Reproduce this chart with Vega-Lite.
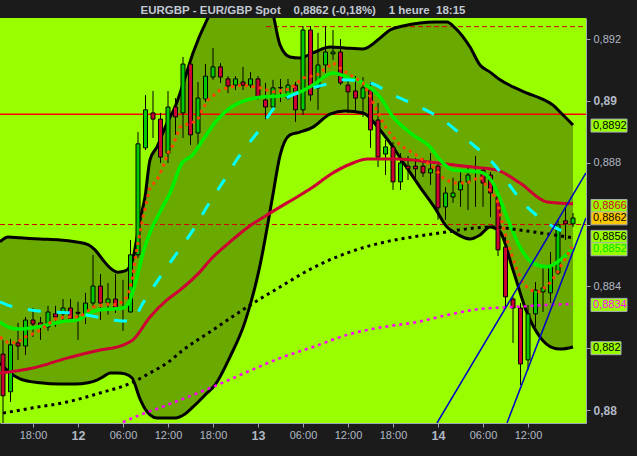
{
"$schema": "https://vega.github.io/schema/vega-lite/v6.json",
"width": 586, "height": 405,
"autosize": {"type": "none"},
"padding": {"left": 0, "top": 18, "right": 51, "bottom": 33},
"background": "#1b1b1b",
"title": {"text": "EURGBP - EUR/GBP Spot \u00a0\u00a0\u00a00,8862 (-0,18%) \u00a0\u00a0\u00a01 heure \u00a018:15", "anchor": "middle", "dx": 10, "dy": 11, "offset": 4, "baseline": "alphabetic", "font": "Liberation Sans", "fontSize": 11.5, "fontWeight": "bold", "color": "#c0c8d2"},
"config": {"view": {"fill": "#99ff00", "stroke": null}},
"datasets": {
"band": [
{"t":13.6,"upper":0.88544,"lower":0.88152},{"t":14.667,"upper":0.8856,"lower":0.88126},{"t":16.267,"upper":0.88557,"lower":0.88101},{"t":18.933,"upper":0.88553,"lower":0.88088},{"t":21.6,"upper":0.8855,"lower":0.88084},{"t":23.6,"upper":0.88544,"lower":0.88084},{"t":25.333,"upper":0.88535,"lower":0.88088},{"t":26.267,"upper":0.88518,"lower":0.88094},{"t":27.333,"upper":0.88485,"lower":0.88107},{"t":28.267,"upper":0.8846,"lower":0.8812},{"t":29.333,"upper":0.88446,"lower":0.8812},{"t":30.267,"upper":0.8845,"lower":0.88117},{"t":31.2,"upper":0.88479,"lower":0.88104},{"t":32.267,"upper":0.88615,"lower":0.88036},{"t":32.933,"upper":0.88689,"lower":0.88004},{"t":33.6,"upper":0.88809,"lower":0.87984},{"t":34.533,"upper":0.88851,"lower":0.87974},{"t":35.867,"upper":0.88928,"lower":0.87974},{"t":36.933,"upper":0.8898,"lower":0.87974},{"t":38.267,"upper":0.89074,"lower":0.87987},{"t":39.333,"upper":0.89155,"lower":0.8801},{"t":41.2,"upper":0.89262,"lower":0.88055},{"t":42.267,"upper":0.8931,"lower":0.88081},{"t":44.267,"upper":0.89375,"lower":0.88172},{"t":46.267,"upper":0.89391,"lower":0.88285},{"t":48.267,"upper":0.89359,"lower":0.88468},{"t":49.867,"upper":0.89294,"lower":0.88679},{"t":50.933,"upper":0.89181,"lower":0.88823},{"t":52.267,"upper":0.89142,"lower":0.8889},{"t":53.6,"upper":0.89139,"lower":0.88899},{"t":55.333,"upper":0.89155,"lower":0.88915},{"t":57.6,"upper":0.89174,"lower":0.88957},{"t":59.6,"upper":0.89171,"lower":0.88967},{"t":62.0,"upper":0.89168,"lower":0.88961},{"t":64.267,"upper":0.89203,"lower":0.88906},{"t":65.6,"upper":0.89229,"lower":0.88864},{"t":67.333,"upper":0.89242,"lower":0.88802},{"t":69.6,"upper":0.89252,"lower":0.88721},{"t":71.6,"upper":0.89255,"lower":0.88653},{"t":73.2,"upper":0.89255,"lower":0.88592},{"t":74.267,"upper":0.89236,"lower":0.88573},{"t":76.267,"upper":0.89174,"lower":0.88553},{"t":77.6,"upper":0.89116,"lower":0.88566},{"t":78.933,"upper":0.89093,"lower":0.88592},{"t":80.267,"upper":0.89068,"lower":0.88576},{"t":82.0,"upper":0.89045,"lower":0.88453},{"t":83.867,"upper":0.89025,"lower":0.88314},{"t":85.6,"upper":0.89009,"lower":0.88236},{"t":87.333,"upper":0.88986,"lower":0.88201},{"t":88.267,"upper":0.88964,"lower":0.88197},{"t":90.0,"upper":0.88922,"lower":0.88204}
],
"candles": [
{"t":14,"open":0.88181,"high":0.88227,"low":0.87958,"close":0.88046},
{"t":15,"open":0.88059,"high":0.8823,"low":0.88026,"close":0.88211},
{"t":16,"open":0.88217,"high":0.88282,"low":0.88162,"close":0.88207},
{"t":17,"open":0.88207,"high":0.88301,"low":0.88178,"close":0.88291},
{"t":18,"open":0.88291,"high":0.8833,"low":0.88236,"close":0.88278},
{"t":19,"open":0.88282,"high":0.88301,"low":0.88227,"close":0.88269},
{"t":20,"open":0.88269,"high":0.88337,"low":0.88256,"close":0.88317},
{"t":21,"open":0.88311,"high":0.88337,"low":0.88269,"close":0.88301},
{"t":22,"open":0.88311,"high":0.88359,"low":0.88285,"close":0.8833},
{"t":23,"open":0.8833,"high":0.88359,"low":0.88285,"close":0.88295},
{"t":24,"open":0.88316,"high":0.8835,"low":0.88227,"close":0.88313},
{"t":25,"open":0.88308,"high":0.88379,"low":0.88278,"close":0.88346},
{"t":26,"open":0.88346,"high":0.88502,"low":0.88333,"close":0.88401},
{"t":27,"open":0.88401,"high":0.8844,"low":0.88291,"close":0.88346},
{"t":28,"open":0.88346,"high":0.88411,"low":0.88308,"close":0.88359},
{"t":29,"open":0.88359,"high":0.8844,"low":0.88314,"close":0.8833},
{"t":30,"open":0.88332,"high":0.88421,"low":0.88256,"close":0.8833},
{"t":31,"open":0.88317,"high":0.8855,"low":0.88315,"close":0.88502},
{"t":32,"open":0.88502,"high":0.88899,"low":0.88492,"close":0.88861},
{"t":33,"open":0.88848,"high":0.89019,"low":0.88841,"close":0.88971},
{"t":34,"open":0.88961,"high":0.89032,"low":0.8888,"close":0.88941},
{"t":35,"open":0.88941,"high":0.88961,"low":0.88799,"close":0.88818},
{"t":36,"open":0.88831,"high":0.89032,"low":0.88799,"close":0.8898},
{"t":37,"open":0.8898,"high":0.89009,"low":0.8889,"close":0.88948},
{"t":38,"open":0.88961,"high":0.89142,"low":0.8888,"close":0.89119},
{"t":39,"open":0.89119,"high":0.89142,"low":0.88857,"close":0.8889},
{"t":40,"open":0.88896,"high":0.89061,"low":0.88857,"close":0.89009},
{"t":41,"open":0.89006,"high":0.89119,"low":0.88996,"close":0.8908},
{"t":42,"open":0.89077,"high":0.89171,"low":0.89068,"close":0.8911},
{"t":43,"open":0.8911,"high":0.89122,"low":0.89058,"close":0.89077},
{"t":44,"open":0.89071,"high":0.8908,"low":0.89025,"close":0.89048},
{"t":45,"open":0.89051,"high":0.8908,"low":0.89035,"close":0.89071},
{"t":46,"open":0.89061,"high":0.8911,"low":0.89035,"close":0.89051},
{"t":47,"open":0.89051,"high":0.89093,"low":0.89042,"close":0.89071},
{"t":48,"open":0.89071,"high":0.8908,"low":0.89003,"close":0.89013},
{"t":49,"open":0.89003,"high":0.89058,"low":0.88941,"close":0.8898},
{"t":50,"open":0.8898,"high":0.89068,"low":0.88971,"close":0.89042},
{"t":51,"open":0.89043,"high":0.89071,"low":0.88996,"close":0.89042},
{"t":52,"open":0.89009,"high":0.89071,"low":0.89003,"close":0.89051},
{"t":53,"open":0.89051,"high":0.89061,"low":0.88932,"close":0.88971},
{"t":54,"open":0.88971,"high":0.89242,"low":0.88954,"close":0.89229},
{"t":55,"open":0.89229,"high":0.89242,"low":0.89,"close":0.89019},
{"t":56,"open":0.89042,"high":0.8922,"low":0.88971,"close":0.89116},
{"t":57,"open":0.89116,"high":0.89242,"low":0.8909,"close":0.89158},
{"t":58,"open":0.89152,"high":0.89229,"low":0.89132,"close":0.89158},
{"t":59,"open":0.89158,"high":0.892,"low":0.89051,"close":0.89058},
{"t":60,"open":0.89051,"high":0.89077,"low":0.88961,"close":0.89029},
{"t":61,"open":0.89032,"high":0.8908,"low":0.88961,"close":0.89009},
{"t":62,"open":0.89009,"high":0.89077,"low":0.88948,"close":0.89042},
{"t":63,"open":0.89035,"high":0.89061,"low":0.88848,"close":0.88906},
{"t":64,"open":0.88938,"high":0.88993,"low":0.88786,"close":0.88818},
{"t":65,"open":0.88828,"high":0.88873,"low":0.8876,"close":0.88851},
{"t":66,"open":0.88851,"high":0.88867,"low":0.88712,"close":0.88738},
{"t":67,"open":0.88738,"high":0.88831,"low":0.88712,"close":0.88799},
{"t":68,"open":0.88789,"high":0.88822,"low":0.88744,"close":0.8878},
{"t":69,"open":0.88789,"high":0.88815,"low":0.88751,"close":0.8878},
{"t":70,"open":0.88789,"high":0.88815,"low":0.88754,"close":0.88767},
{"t":71,"open":0.88767,"high":0.88831,"low":0.88728,"close":0.8878},
{"t":72,"open":0.88789,"high":0.88799,"low":0.88615,"close":0.88654},
{"t":73,"open":0.88657,"high":0.88721,"low":0.88615,"close":0.88702},
{"t":74,"open":0.88689,"high":0.88751,"low":0.8867,"close":0.88702},
{"t":75,"open":0.88712,"high":0.88776,"low":0.88657,"close":0.88738},
{"t":76,"open":0.88738,"high":0.88783,"low":0.88647,"close":0.8876},
{"t":77,"open":0.88771,"high":0.88822,"low":0.88657,"close":0.8877},
{"t":78,"open":0.88776,"high":0.88783,"low":0.88657,"close":0.88734},
{"t":79,"open":0.8876,"high":0.8877,"low":0.88624,"close":0.88702},
{"t":80,"open":0.88689,"high":0.88712,"low":0.88498,"close":0.88518},
{"t":81,"open":0.88527,"high":0.8856,"low":0.88333,"close":0.88366},
{"t":82,"open":0.88359,"high":0.88366,"low":0.88217,"close":0.8833},
{"t":83,"open":0.8833,"high":0.88346,"low":0.88081,"close":0.88149},
{"t":84,"open":0.88162,"high":0.8834,"low":0.8813,"close":0.88311},
{"t":85,"open":0.88311,"high":0.88414,"low":0.88269,"close":0.88388},
{"t":86,"open":0.88382,"high":0.8846,"low":0.88317,"close":0.88395},
{"t":87,"open":0.88379,"high":0.88511,"low":0.88346,"close":0.88463},
{"t":88,"open":0.88443,"high":0.88615,"low":0.88437,"close":0.88599},
{"t":89,"open":0.88612,"high":0.88657,"low":0.8855,"close":0.88602},
{"t":90,"open":0.88602,"high":0.88637,"low":0.88592,"close":0.88621}
],
"green": [
{"t":13.6,"v":0.88285},{"t":14.933,"v":0.88266},{"t":16.267,"v":0.88262},{"t":18.0,"v":0.88266},{"t":19.867,"v":0.88275},{"t":21.6,"v":0.88285},{"t":23.867,"v":0.88291},{"t":25.6,"v":0.88314},{"t":26.933,"v":0.88324},{"t":28.667,"v":0.88327},{"t":30.0,"v":0.8833},{"t":30.933,"v":0.88356},{"t":31.867,"v":0.8843},{"t":32.667,"v":0.88508},{"t":33.867,"v":0.88589},{"t":34.933,"v":0.88641},{"t":36.267,"v":0.88702},{"t":37.867,"v":0.88799},{"t":39.2,"v":0.88823},{"t":40.667,"v":0.88874},{"t":42.533,"v":0.88938},{"t":44.267,"v":0.88977},{"t":46.533,"v":0.89003},{"t":48.267,"v":0.89012},{"t":50.933,"v":0.89016},{"t":53.6,"v":0.89029},{"t":55.333,"v":0.89051},{"t":58.0,"v":0.8909},{"t":59.867,"v":0.89077},{"t":62.0,"v":0.89058},{"t":64.267,"v":0.89012},{"t":66.0,"v":0.88948},{"t":68.667,"v":0.8889},{"t":70.933,"v":0.88851},{"t":72.267,"v":0.88809},{"t":74.0,"v":0.88776},{"t":77.6,"v":0.8877},{"t":79.333,"v":0.88734},{"t":81.2,"v":0.88624},{"t":82.933,"v":0.88527},{"t":84.667,"v":0.88475},{"t":86.533,"v":0.88463},{"t":88.267,"v":0.88485},{"t":90.0,"v":0.88524}
],
"crimson": [
{"t":13.6,"v":0.8812},{"t":18.0,"v":0.88136},{"t":22.533,"v":0.88168},{"t":26.933,"v":0.88194},{"t":30.0,"v":0.8821},{"t":31.333,"v":0.88227},{"t":33.6,"v":0.88301},{"t":35.867,"v":0.88356},{"t":37.6,"v":0.88388},{"t":39.867,"v":0.88437},{"t":42.0,"v":0.88495},{"t":44.267,"v":0.88544},{"t":46.533,"v":0.88589},{"t":49.2,"v":0.88631},{"t":51.867,"v":0.8867},{"t":55.333,"v":0.88721},{"t":57.6,"v":0.88761},{"t":60.667,"v":0.88799},{"t":62.533,"v":0.88812},{"t":66.533,"v":0.88812},{"t":70.933,"v":0.88802},{"t":75.333,"v":0.88789},{"t":79.867,"v":0.88776},{"t":82.933,"v":0.88734},{"t":86.533,"v":0.88673},{"t":90.0,"v":0.88667}
],
"cyan": [
{"t":13.6,"v":0.8835},{"t":14.933,"v":0.88337},{"t":16.933,"v":0.88327},{"t":20.267,"v":0.88317},{"t":23.333,"v":0.88314},{"t":26.533,"v":0.88301},{"t":27.867,"v":0.88295},{"t":30.0,"v":0.88288},{"t":31.2,"v":0.88291},{"t":32.667,"v":0.88346},{"t":34.933,"v":0.8843},{"t":37.2,"v":0.88508},{"t":39.333,"v":0.88582},{"t":41.333,"v":0.88663},{"t":43.333,"v":0.88738},{"t":45.6,"v":0.88825},{"t":47.867,"v":0.88896},{"t":50.267,"v":0.8898},{"t":53.6,"v":0.89029},{"t":56.667,"v":0.89051},{"t":59.333,"v":0.89068},{"t":62.933,"v":0.89058},{"t":66.0,"v":0.89019},{"t":69.6,"v":0.8898},{"t":72.667,"v":0.88938},{"t":75.867,"v":0.88874},{"t":78.933,"v":0.88809},{"t":83.867,"v":0.88657},{"t":86.933,"v":0.88599},{"t":89.867,"v":0.88566}
],
"orange": [
{"t":13.6,"v":0.88236},{"t":14.533,"v":0.8822},{"t":15.867,"v":0.88217},{"t":16.667,"v":0.88233},{"t":17.6,"v":0.88243},{"t":18.533,"v":0.88252},{"t":19.333,"v":0.88266},{"t":21.2,"v":0.88298},{"t":22.533,"v":0.88301},{"t":24.267,"v":0.88301},{"t":26.0,"v":0.88333},{"t":27.867,"v":0.88343},{"t":29.2,"v":0.8834},{"t":30.267,"v":0.88356},{"t":30.667,"v":0.88372},{"t":31.2,"v":0.88421},{"t":31.6,"v":0.88485},{"t":32.0,"v":0.8854},{"t":32.667,"v":0.88624},{"t":33.6,"v":0.88721},{"t":34.533,"v":0.88744},{"t":35.333,"v":0.88786},{"t":36.0,"v":0.88832},{"t":36.667,"v":0.88857},{"t":37.6,"v":0.88915},{"t":38.933,"v":0.88928},{"t":39.867,"v":0.88935},{"t":40.533,"v":0.8897},{"t":41.333,"v":0.89003},{"t":42.933,"v":0.89035},{"t":44.267,"v":0.89045},{"t":46.0,"v":0.89051},{"t":48.267,"v":0.89042},{"t":50.0,"v":0.89029},{"t":52.267,"v":0.89038},{"t":54.0,"v":0.89074},{"t":55.867,"v":0.89084},{"t":58.0,"v":0.89123},{"t":59.867,"v":0.8909},{"t":62.0,"v":0.89058},{"t":63.2,"v":0.89003},{"t":64.267,"v":0.88948},{"t":65.2,"v":0.88906},{"t":66.933,"v":0.88857},{"t":69.2,"v":0.88823},{"t":71.333,"v":0.88786},{"t":72.667,"v":0.88751},{"t":74.0,"v":0.88734},{"t":75.867,"v":0.88734},{"t":77.6,"v":0.88754},{"t":79.867,"v":0.88679},{"t":80.667,"v":0.88592},{"t":81.6,"v":0.88518},{"t":82.533,"v":0.88453},{"t":83.333,"v":0.88411},{"t":84.267,"v":0.88388},{"t":85.6,"v":0.88382},{"t":86.933,"v":0.88411},{"t":87.867,"v":0.88443},{"t":88.667,"v":0.88479},{"t":89.867,"v":0.88527}
],
"blackma": [
{"t":14.0,"v":0.8799},{"t":18.0,"v":0.88007},{"t":22.533,"v":0.88026},{"t":26.933,"v":0.88055},{"t":31.333,"v":0.8809},{"t":33.6,"v":0.8812},{"t":35.867,"v":0.88152},{"t":38.0,"v":0.88194},{"t":42.0,"v":0.88259},{"t":46.533,"v":0.88333},{"t":50.933,"v":0.88398},{"t":55.333,"v":0.8846},{"t":59.867,"v":0.88508},{"t":65.6,"v":0.88547},{"t":68.667,"v":0.8856},{"t":73.2,"v":0.88576},{"t":75.867,"v":0.88586},{"t":79.333,"v":0.88592},{"t":82.933,"v":0.88582},{"t":85.6,"v":0.88573},{"t":89.2,"v":0.8856},{"t":90.0,"v":0.88557}
],
"magenta": [
{"t":28.267,"v":0.87942},{"t":32.267,"v":0.87984},{"t":35.867,"v":0.88016},{"t":38.0,"v":0.88036},{"t":42.0,"v":0.88075},{"t":46.533,"v":0.88123},{"t":50.933,"v":0.88168},{"t":55.333,"v":0.88204},{"t":59.867,"v":0.88243},{"t":65.6,"v":0.88272},{"t":68.667,"v":0.88282},{"t":73.2,"v":0.88307},{"t":77.6,"v":0.88327},{"t":82.0,"v":0.88333},{"t":86.533,"v":0.8834},{"t":90.0,"v":0.88343}
],
"blue": [
{"t":71.87,"v":0.87958,"t2":91.73,"v2":0.88767},
{"t":81.2,"v":0.87958,"t2":91.73,"v2":0.88621}
],
"hsolid": [{"t":13.6,"t2":91.73,"v":0.88957}],
"hdash": [{"t":13.6,"t2":91.73,"v":0.886},{"t":49.07,"t2":91.73,"v":0.8924}],
"boxes": [
{"series":"upper","v":0.8892,"label":"0,8892"},
{"series":"crimson","v":0.8866,"label":"0,8866"},
{"series":"price","v":0.8862,"label":"0,8862"},
{"series":"blackma","v":0.8856,"label":"0,8856"},
{"series":"green","v":0.8852,"label":"0,8852"},
{"series":"magenta","v":0.8834,"label":"0,8834"},
{"series":"lower","v":0.882,"label":"0,882"}
]
},
"layer": [
{"data": {"name": "band"},
 "mark": {"type": "area", "fill": "#6aaa00", "interpolate": "monotone", "clip": true},
 "encoding": {
  "x": {"field": "t", "type": "quantitative",
   "scale": {"domain": [13.6, 91.73], "nice": false, "zero": false, "padding": 0},
   "axis": {"title": null, "grid": false, "values": [18,24,30,36,42,48,54,60,66,72,78,84],
    "labelExpr": "datum.value % 24 == 0 ? toString(datum.value / 24 + 11) : (datum.value % 24 == 6 ? '06:00' : (datum.value % 24 == 12 ? '12:00' : '18:00'))",
    "domainColor": "#a0a8b2", "tickColor": "#a0a8b2", "tickSize": 4, "labelPadding": 2,
    "labelColor": "#b0b8c4", "labelFont": "Liberation Sans",
    "labelFontSize": {"condition": {"test": "datum.value % 24 == 0", "value": 12.5}, "value": 11},
    "labelFontWeight": {"condition": {"test": "datum.value % 24 == 0", "value": "bold"}, "value": "normal"},
    "labelOverlap": false, "labelFlush": false}},
  "y": {"field": "upper", "type": "quantitative",
   "scale": {"domain": [0.87958, 0.89268], "nice": false, "zero": false, "padding": 0},
   "axis": {"title": null, "grid": false, "orient": "right",
    "values": [0.88,0.881,0.882,0.883,0.884,0.885,0.886,0.887,0.888,0.889,0.89,0.891,0.892],
    "labelExpr": "(round(datum.value*1000) % 2 != 0 || round(datum.value*1000) == 886 || round(datum.value*1000) == 882) ? '' : replace(format(datum.value, round(datum.value*1000) % 10 == 0 ? '.2f' : '.3f'), '.', ',')",
    "domainColor": "#a0a8b2", "tickColor": "#a0a8b2", "tickSize": 4, "labelPadding": 3,
    "labelColor": "#b0b8c4", "labelFont": "Liberation Sans", "labelBaseline": "middle",
    "labelFontSize": {"condition": {"test": "round(datum.value*1000) % 10 == 0", "value": 12}, "value": 11},
    "labelFontWeight": {"condition": {"test": "round(datum.value*1000) % 10 == 0", "value": "bold"}, "value": "normal"},
    "labelOverlap": false, "labelFlush": false}},
  "y2": {"field": "lower"}
 }},
{"data": {"name": "hsolid"},
 "mark": {"type": "rule", "color": "#ff0000", "strokeWidth": 1.5, "clip": true},
 "encoding": {"x": {"field": "t", "type": "quantitative"}, "x2": {"field": "t2"}, "y": {"field": "v", "type": "quantitative"}}},
{"data": {"name": "hdash"},
 "mark": {"type": "rule", "color": "#d40000", "strokeWidth": 1, "strokeDash": [5, 3], "clip": true},
 "encoding": {"x": {"field": "t", "type": "quantitative"}, "x2": {"field": "t2"}, "y": {"field": "v", "type": "quantitative"}}},
{"data": {"name": "band"},
 "mark": {"type": "line", "color": "#000000", "strokeWidth": 3, "interpolate": "monotone", "clip": true},
 "encoding": {"x": {"field": "t", "type": "quantitative"}, "y": {"field": "upper", "type": "quantitative"}}},
{"data": {"name": "band"},
 "mark": {"type": "line", "color": "#000000", "strokeWidth": 3, "interpolate": "monotone", "clip": true},
 "encoding": {"x": {"field": "t", "type": "quantitative"}, "y": {"field": "lower", "type": "quantitative"}}},
{"data": {"name": "candles"},
 "mark": {"type": "rule", "color": "#000000", "strokeWidth": 1, "clip": true},
 "encoding": {"x": {"field": "t", "type": "quantitative"}, "y": {"field": "low", "type": "quantitative"}, "y2": {"field": "high"}}},
{"data": {"name": "candles"},
 "mark": {"type": "bar", "width": 4, "stroke": "#000000", "strokeWidth": 1, "clip": true},
 "encoding": {"x": {"field": "t", "type": "quantitative"}, "y": {"field": "open", "type": "quantitative"}, "y2": {"field": "close"},
  "fill": {"condition": {"test": "datum.close >= datum.open", "value": "#00c800"}, "value": "#cc0033"}}},
{"data": {"name": "crimson"},
 "mark": {"type": "line", "color": "#cc0033", "strokeWidth": 3, "interpolate": "monotone", "clip": true},
 "encoding": {"x": {"field": "t", "type": "quantitative"}, "y": {"field": "v", "type": "quantitative"}}},
{"data": {"name": "green"},
 "mark": {"type": "line", "color": "#00f000", "strokeWidth": 3.5, "interpolate": "monotone", "clip": true},
 "encoding": {"x": {"field": "t", "type": "quantitative"}, "y": {"field": "v", "type": "quantitative"}}},
{"data": {"name": "cyan"},
 "mark": {"type": "line", "color": "#00ffff", "strokeWidth": 3, "strokeDash": [13, 16], "interpolate": "monotone", "clip": true},
 "encoding": {"x": {"field": "t", "type": "quantitative"}, "y": {"field": "v", "type": "quantitative"}}},
{"data": {"name": "blackma"},
 "mark": {"type": "line", "color": "#000000", "strokeWidth": 3, "strokeDash": [3, 4], "interpolate": "monotone", "clip": true},
 "encoding": {"x": {"field": "t", "type": "quantitative"}, "y": {"field": "v", "type": "quantitative"}}},
{"data": {"name": "magenta"},
 "mark": {"type": "line", "color": "#ff00ff", "strokeWidth": 2.5, "strokeDash": [3, 4], "interpolate": "monotone", "clip": true},
 "encoding": {"x": {"field": "t", "type": "quantitative"}, "y": {"field": "v", "type": "quantitative"}}},
{"data": {"name": "orange"},
 "mark": {"type": "line", "color": "#ff4500", "strokeWidth": 3, "strokeDash": [3, 4], "clip": true},
 "encoding": {"x": {"field": "t", "type": "quantitative"}, "y": {"field": "v", "type": "quantitative"}}},
{"data": {"name": "blue"},
 "mark": {"type": "rule", "color": "#0000cc", "strokeWidth": 1.5, "clip": true},
 "encoding": {"x": {"field": "t", "type": "quantitative"}, "y": {"field": "v", "type": "quantitative"}, "x2": {"field": "t2"}, "y2": {"field": "v2"}}},
{"data": {"name": "boxes"},
 "transform": [{"filter": "datum.series != 'lower'"}],
 "mark": {"type": "rect", "stroke": "#a8aeb6", "strokeWidth": 1, "xOffset": 5, "x2Offset": 41, "yOffset": -6.5, "y2Offset": 6.5},
 "encoding": {"x": {"value": "width"}, "x2": {"value": "width"}, "y": {"field": "v", "type": "quantitative"}, "y2": {"field": "v"},
  "fill": {"condition": {"test": "datum.series == 'price'", "value": "#ffc800"}, "value": "#99ff00"}}},
{"data": {"name": "boxes"},
 "transform": [{"filter": "datum.series == 'lower'"}],
 "mark": {"type": "rect", "stroke": "#a8aeb6", "strokeWidth": 1, "fill": "#99ff00", "xOffset": 5, "x2Offset": 35, "yOffset": -6.5, "y2Offset": 6.5},
 "encoding": {"x": {"value": "width"}, "x2": {"value": "width"}, "y": {"field": "v", "type": "quantitative"}, "y2": {"field": "v"}}},
{"data": {"name": "boxes"},
 "mark": {"type": "text", "align": "left", "baseline": "middle", "dx": 7, "font": "Liberation Sans", "fontSize": 11},
 "encoding": {"x": {"value": "width"}, "y": {"field": "v", "type": "quantitative"}, "text": {"field": "label"},
  "color": {"field": "series", "type": "nominal", "legend": null,
   "scale": {"domain": ["upper","crimson","price","blackma","green","magenta","lower"], "range": ["#000000","#cc0033","#000000","#000000","#00e000","#ff00ff","#000000"]}}}}
]
}
